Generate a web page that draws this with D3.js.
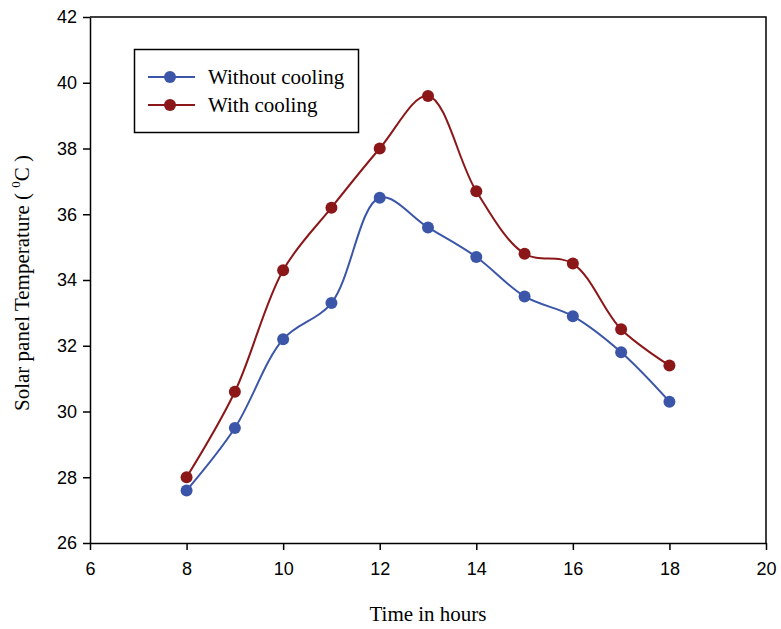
<!DOCTYPE html>
<html>
<head>
<meta charset="utf-8">
<script src="https://cdn.jsdelivr.net/npm/d3@7"></script>
<style>
  body { margin: 0; background: #fff; }
  svg { display: block; }
</style>
</head>
<body>
<div id="chart"></div>
<script>
let hours = [8, 9, 10, 11, 12, 13, 14, 15, 16, 17, 18]
let withoutCooling = [27.6, 29.5, 32.2, 33.3, 36.5, 35.6, 34.7, 33.5, 32.9, 31.8, 30.3]
let withCooling = [28.0, 30.6, 34.3, 36.2, 38.0, 39.6, 36.7, 34.8, 34.5, 32.5, 31.4]
let xTicks = [6, 8, 10, 12, 14, 16, 18, 20]
let yTicks = [26, 28, 30, 32, 34, 36, 38, 40, 42]

let series = [
  {name: "Without cooling", values: withoutCooling, color: "#3b56a9"},
  {name: "With cooling", values: withCooling, color: "#8b1719"}
]

let width = 781, height = 629
let margin = {top: 17, right: 15, bottom: 86, left: 90}

let svg = d3.select("#chart")
  .append("svg")
  .attr("width", width)
  .attr("height", height)

let graph = svg.append("g")
  .attr("transform", `translate(${margin.left},${margin.top})`)

let gw = 766 - margin.left
let gh = 543 - margin.top

// scales
let x = d3.scaleLinear().domain([6, 20]).range([0, gw])
let y = d3.scaleLinear().domain([26, 42]).range([gh, 0])

// frame (top + right)
graph.append("path")
  .attr("d", `M0,0H${gw}V${gh}`)
  .attr("fill", "none")
  .attr("stroke", "#000")
  .attr("stroke-width", 1.5)

// axes
let xAxis = graph.append("g")
  .attr("class", "xAxis")
  .attr("transform", `translate(0,${gh})`)
  .call(d3.axisBottom(x).tickValues(xTicks).tickSize(7).tickPadding(12).tickSizeOuter(0))
let yAxis = graph.append("g")
  .attr("class", "yAxis")
  .call(d3.axisLeft(y).tickValues(yTicks).tickSize(7).tickPadding(6).tickSizeOuter(0))

d3.selectAll(".xAxis path, .yAxis path, .xAxis line, .yAxis line")
  .attr("stroke", "#000").attr("stroke-width", 1.5)
d3.selectAll(".xAxis text, .yAxis text")
  .attr("fill", "#000")
  .attr("font-family", "Liberation Sans, Arial, sans-serif")
  .attr("font-size", 18)

// axis titles
svg.append("text")
  .attr("x", 428)
  .attr("y", 621)
  .attr("text-anchor", "middle")
  .attr("font-family", "Liberation Serif, Times New Roman, serif")
  .attr("font-size", 21)
  .text("Time in hours")

let yTitle = svg.append("text")
  .attr("transform", `translate(29,283) rotate(-90)`)
  .attr("text-anchor", "middle")
  .attr("font-family", "Liberation Serif, Times New Roman, serif")
  .attr("font-size", 21)
yTitle.append("tspan").text("Solar panel Temperature ( ")
yTitle.append("tspan").attr("font-size", 13).attr("dy", -9).text("0")
yTitle.append("tspan").attr("dy", 9).text("C )")

// lines + dots
let line = d3.line()
  .x((d, i) => x(hours[i]))
  .y(d => y(d))
  .curve(d3.curveCatmullRom.alpha(0.5))

series.forEach(s => {
  graph.append("path")
    .attr("d", line(s.values))
    .attr("fill", "none")
    .attr("stroke", s.color)
    .attr("stroke-width", 2)
  graph.selectAll(null)
    .data(s.values)
    .enter()
    .append("circle")
    .attr("cx", (d, i) => x(hours[i]))
    .attr("cy", d => y(d))
    .attr("r", 6)
    .attr("fill", s.color)
})

// legend
let legend = svg.append("g")
legend.append("rect")
  .attr("x", 134.5).attr("y", 49.5)
  .attr("width", 224).attr("height", 83)
  .attr("fill", "none")
  .attr("stroke", "#000")
  .attr("stroke-width", 1.5)
series.forEach((s, i) => {
  let ly = 77 + i * 28
  legend.append("line")
    .attr("x1", 148).attr("x2", 195)
    .attr("y1", ly).attr("y2", ly)
    .attr("stroke", s.color).attr("stroke-width", 2)
  legend.append("circle")
    .attr("cx", 170).attr("cy", ly).attr("r", 6)
    .attr("fill", s.color)
  legend.append("text")
    .attr("x", 208).attr("y", ly + 7)
    .attr("font-family", "Liberation Serif, Times New Roman, serif")
    .attr("font-size", 21)
    .text(s.name)
})
</script>
</body>
</html>
